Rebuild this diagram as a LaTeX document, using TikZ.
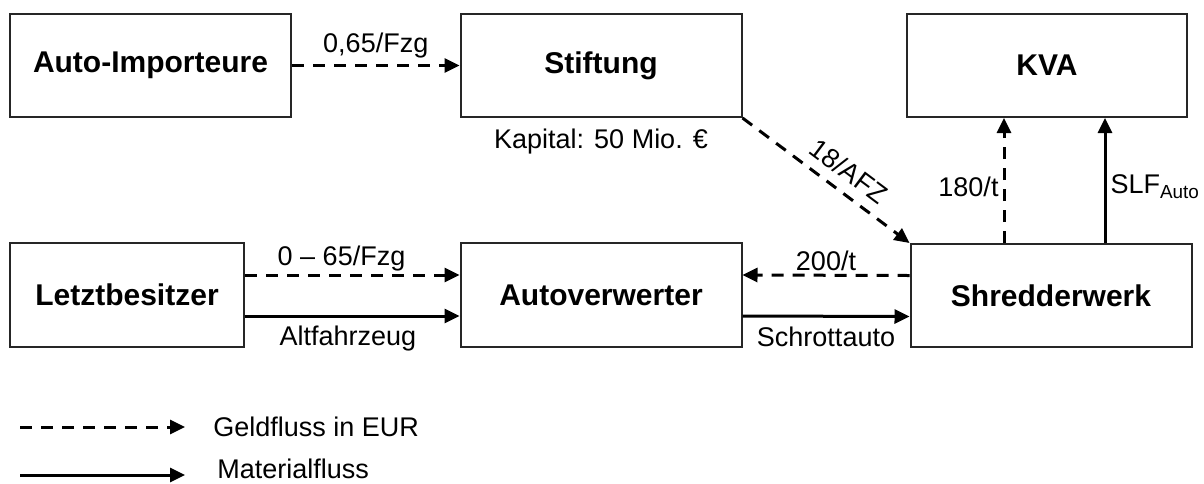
\documentclass[tikz,border=0pt]{standalone}
\usepackage{fontspec}
\setmainfont{Liberation Sans}
\usetikzlibrary{arrows.meta,positioning,calc}
\tikzset{
  akteur/.style={draw=black!85,line width=1pt,minimum width=140.5pt,minimum height=51.5pt,
    font=\bfseries\fontsize{15}{18}\selectfont},
  lbl/.style={font=\fontsize{13.5}{16}\selectfont,inner sep=1pt},
  fluss/.style={line width=1.5pt,-{Triangle[length=7.5pt,width=7pt]}},
  geld/.style={fluss,dash pattern=on 6pt off 4.5pt},
  mat/.style={fluss}
}
\begin{document}
\begin{tikzpicture}[x=0.5pt,y=-0.5pt]
\useasboundingbox (0,0) rectangle (1204,483);
\node[akteur] (imp) at (150.5,65.5) {Auto-Importeure};
\node[akteur] (stift) at (601,65.5) {Stiftung};
\node[akteur,minimum width=140pt] (kva) at (1047,65.5) {KVA};
\node[akteur,minimum width=117pt,minimum height=52pt] (letzt) at (127,295) {Letztbesitzer};
\node[akteur,minimum height=52pt] (autov) at (601,295) {Autoverwerter};
\node[akteur] (shred) at (1051,295.5) {Shredderwerk};
\node[lbl,below=4.5pt of stift] (kap) {Kapital: 50 Mio. €};
\draw[geld](imp)--node[lbl,above,inner sep=3pt]{0,65/Fzg}(stift);
\draw[geld]([yshift=10pt]letzt.east)--node[lbl,above,pos=0.45]{0 -- 65/Fzg}([yshift=10pt]autov.west);
\draw[mat]([yshift=-10.5pt]letzt.east)--node[lbl,below,pos=0.48,inner sep=4pt]{Altfahrzeug}([yshift=-10.5pt]autov.west);
\draw[geld]([yshift=10pt]shred.west)--node[lbl,above,inner sep=1.5pt]{200/t}([yshift=10pt]autov.east);
\draw[mat]([yshift=-10.5pt]autov.east)--node[lbl,below,inner sep=4.5pt]{Schrottauto}([yshift=-10.5pt]shred.west);
\draw[geld](stift.south east)--node[lbl,sloped,above,pos=0.56,inner sep=5pt]{18/AFZ}(shred.north west);
\draw[geld]([xshift=-23.5pt]shred.north)--node[lbl,left,pos=0.45,inner sep=2pt]{180/t}([xshift=-23.5pt]shred.north |- kva.south);
\draw[mat]([xshift=27pt]shred.north)--node[lbl,right,pos=0.45,inner sep=2pt]{SLF\textsubscript{Auto}}([xshift=27pt]shred.north |- kva.south);
\coordinate (geld0) at (20,427);
\coordinate (geld1) at (185,427);
\coordinate (mat0) at (20,475);
\coordinate (mat1) at (185,475);
\draw[geld](geld0)--(geld1);
\draw[mat](mat0)--(mat1);
\node[lbl,right] (geldtxt) at (211,427) {Geldfluss in EUR};
\node[lbl,right,inner sep=0.5pt] (mattxt) at (216,469) {Materialfluss};
\end{tikzpicture}
\end{document}
